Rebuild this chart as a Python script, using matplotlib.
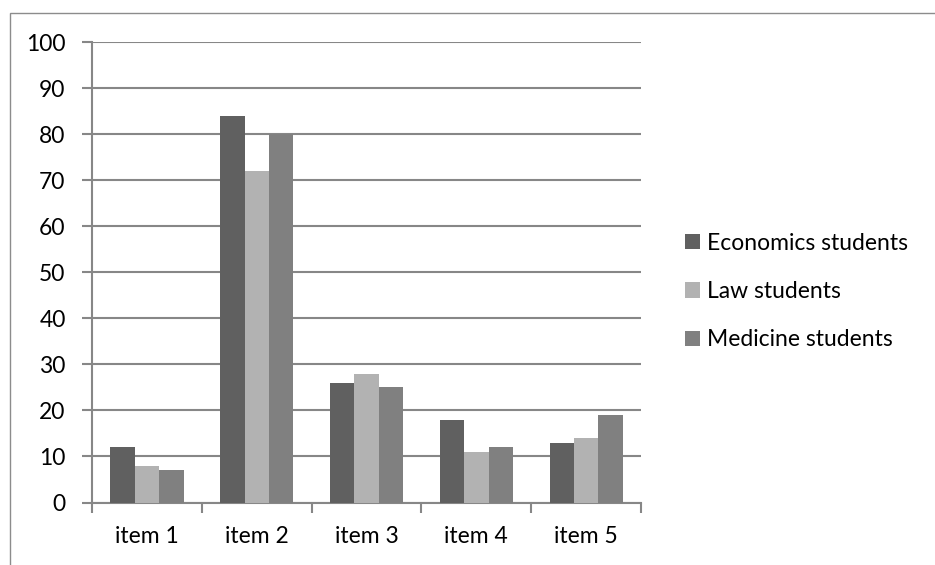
import numpy as np
import matplotlib
matplotlib.use("Agg")
import matplotlib.pyplot as plt
from matplotlib.patches import Rectangle

items = ["item 1", "item 2", "item 3", "item 4", "item 5"]
economics = [12, 84, 26, 18, 13]
law = [8, 72, 28, 11, 14]
medicine = [7, 80, 25, 12, 19]

series = [("Economics students", economics, "#606060"),
          ("Law students", law, "#b2b2b2"),
          ("Medicine students", medicine, "#808080")]

plt.rcParams["font.family"] = ["Lato", "DejaVu Sans"]
grid_col = "#878787"
fs = 16.5

fig = plt.figure(figsize=(9.35, 5.65), dpi=100)
ax = fig.add_axes([92 / 935, 1 - 502.5 / 565, 549 / 935, 460.2 / 565])

# outer chart frame (runs off the right and bottom edges)
fig.patches.append(Rectangle((10 / 935, -0.1), 1.2, 1 - 13 / 565 + 0.1,
                             transform=fig.transFigure, fill=False,
                             edgecolor="#8c8c8c", linewidth=1.0))

x = np.arange(len(items))
w = 1 / 4.5
for i, (name, vals, col) in enumerate(series):
    ax.bar(x + (i - 1) * w, vals, width=w, color=col, label=name, zorder=3)

ax.set_xlim(-0.5, len(items) - 0.5)
ax.set_ylim(0, 100)
ax.set_yticks(range(0, 101, 10))
ax.yaxis.grid(True, color=grid_col, linewidth=1.5, zorder=0)

ax.set_xticks(np.arange(-0.5, len(items)), labels=[])
ax.set_xticks(x, labels=items, minor=True)
ax.tick_params(axis="x", which="minor", length=0, pad=17, labelsize=fs)
ax.tick_params(axis="x", which="major", length=7, width=1.5, color=grid_col)
ax.tick_params(axis="y", length=7, width=1.5, color=grid_col, pad=12, labelsize=fs)

for s in ["top", "right"]:
    ax.spines[s].set_visible(False)
for s in ["left", "bottom"]:
    ax.spines[s].set_color(grid_col)
    ax.spines[s].set_linewidth(1.5)

fig.legend(loc="center left", bbox_to_anchor=(664 / 935, 1 - 291.5 / 565),
           frameon=False, fontsize=fs, handlelength=0.68, handleheight=0.68,
           handletextpad=0.3, labelspacing=1.2)

fig.savefig("out.png", dpi=100)
